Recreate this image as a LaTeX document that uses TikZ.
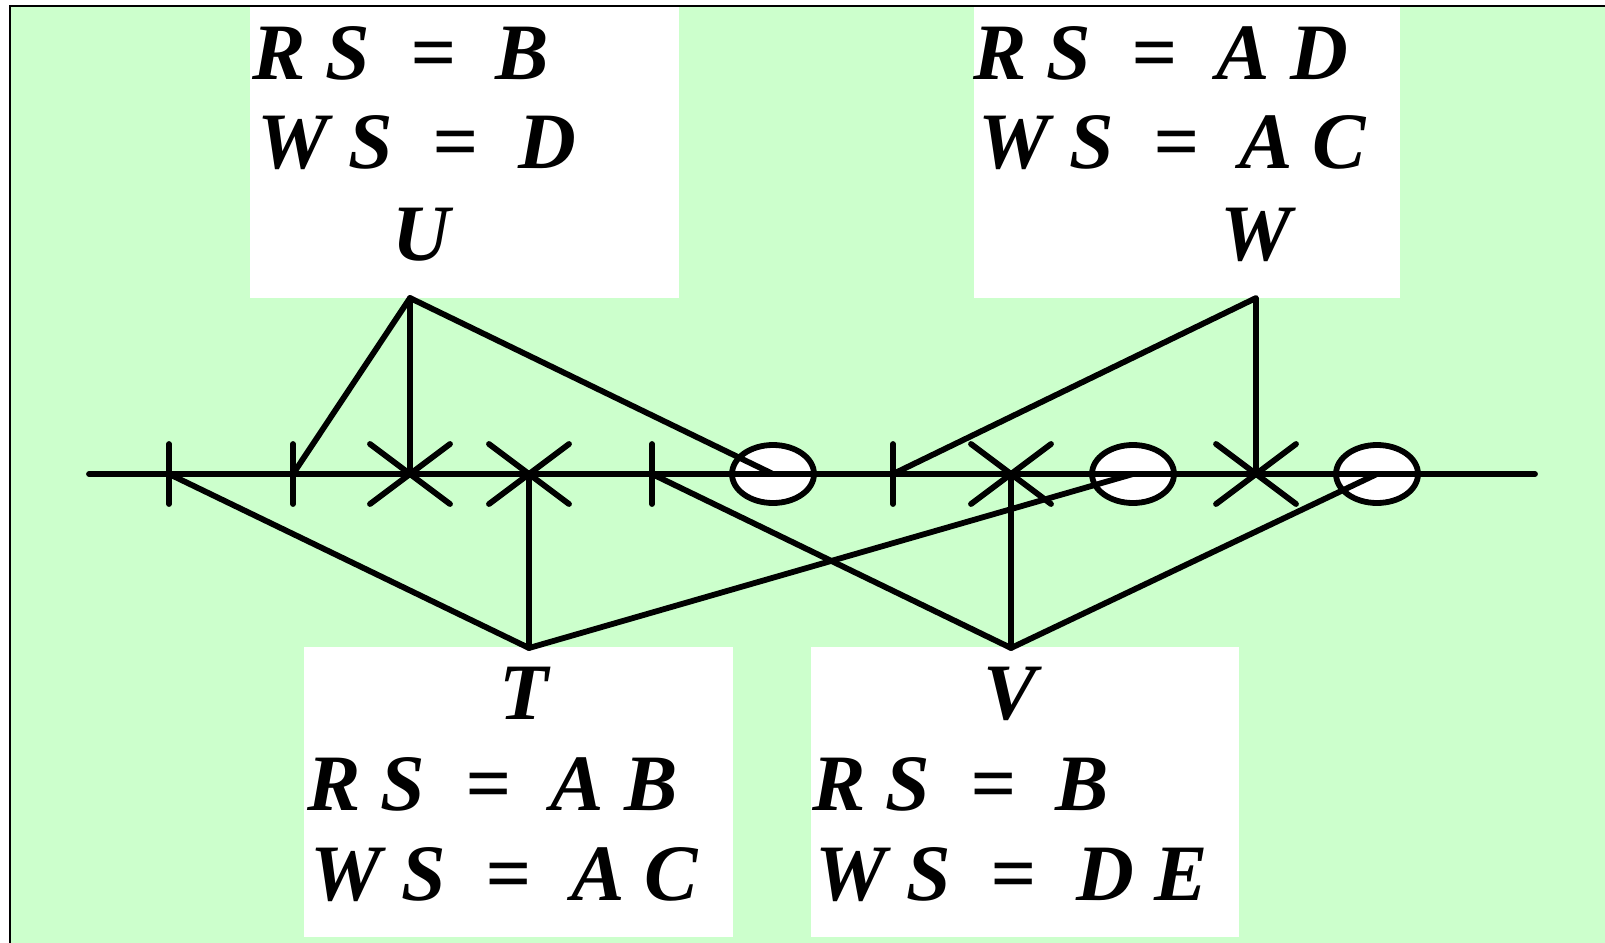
\documentclass[tikz,border=0pt]{standalone}
\usepackage{fontspec}
\setmainfont{Liberation Serif}
\usetikzlibrary{shapes.geometric}
\definecolor{bggreen}{HTML}{CCFFCC}
\tikzset{
  lbl/.style={anchor=base west, inner sep=0pt, font=\fontsize{80}{89}\selectfont\bfseries\itshape},
  wbox/.style={fill=white, draw=none},
  wire/.style={line width=5.8pt, line cap=round, line join=round},
  oval/.style={ellipse, draw, fill=white, line width=5.8pt, minimum width=82pt, minimum height=58pt, inner sep=0pt}
}
\begin{document}
\begin{tikzpicture}[x=1pt, y=-1pt]
\useasboundingbox (0,0) rectangle (1605,942);
\clip (0,0) rectangle (1605,942);
\fill[white] (0,0) rectangle (1605,942);
\filldraw[fill=bggreen, draw=black, line width=2pt] (10,6) rectangle (1640,980);
% white boxes
\fill[wbox] (250,7) rectangle (679,298);
\fill[wbox] (974,7) rectangle (1400,298);
\fill[wbox] (304,647) rectangle (733,937);
\fill[wbox] (811,647) rectangle (1239,937);
% texts
\node[lbl] (u1) at (252,79) {R~S~~=~~B};
\node[lbl] (u2) at (257,168) {W~S~~=~~D};
\node[lbl] (ul) at (392,260) {U};
\node[lbl] (w1) at (973,79) {R~S~~=~~A~D};
\node[lbl] (w2) at (978,168) {W~S~~=~~A~C};
\node[lbl] (wl) at (1220,260) {W};
\node[lbl] (tl) at (499,719) {T};
\node[lbl] (t1) at (307,810) {R~S~~=~~A~B};
\node[lbl] (t2) at (310,900) {W~S~~=~~A~C};
\node[lbl] (vl) at (983,719) {V};
\node[lbl] (v1) at (812,810) {R~S~~=~~B};
\node[lbl] (v2) at (815,900) {W~S~~=~~D~E};
% positions on the line
\coordinate (k1) at (169,474);
\coordinate (k2) at (293,474);
\coordinate (x1) at (410,474);
\coordinate (x2) at (529,474);
\coordinate (k3) at (652,474);
\coordinate (o1) at (773,474);
\coordinate (k4) at (893,474);
\coordinate (x3) at (1011,474);
\coordinate (o2) at (1133,474);
\coordinate (x4) at (1256,474);
\coordinate (o3) at (1377,474);
\coordinate (ls) at (89,474);
\coordinate (le) at (1535,474);
% junctions
\coordinate (U) at (410,298);
\coordinate (W) at (1256,298);
\coordinate (T) at (529,648);
\coordinate (V) at (1011,648);
% ovals
\node[oval] (e1) at (o1) {};
\node[oval] (e2) at (o2) {};
\node[oval] (e3) at (o3) {};
% main line
\draw[wire] (ls) -- (le);
% ticks
\foreach \p in {k1,k2,k3,k4}{
  \draw[wire] ([yshift=-30pt]\p) -- ([yshift=30pt]\p);
}
% crosses
\foreach \p in {x1,x2,x3,x4}{
  \draw[wire] ([shift={(-40pt,-30pt)}]\p) -- ([shift={(40pt,30pt)}]\p);
  \draw[wire] ([shift={(-40pt,30pt)}]\p) -- ([shift={(40pt,-30pt)}]\p);
}
% connectors
\draw[wire] (k2) -- (U) -- (o1);
\draw[wire] (U) -- (x1);
\draw[wire] (k4) -- (W) -- (x4);
\draw[wire] (k1) -- (T) -- (o2);
\draw[wire] (T) -- (x2);
\draw[wire] (k3) -- (V) -- (o3);
\draw[wire] (V) -- (x3);
\end{tikzpicture}
\end{document}
